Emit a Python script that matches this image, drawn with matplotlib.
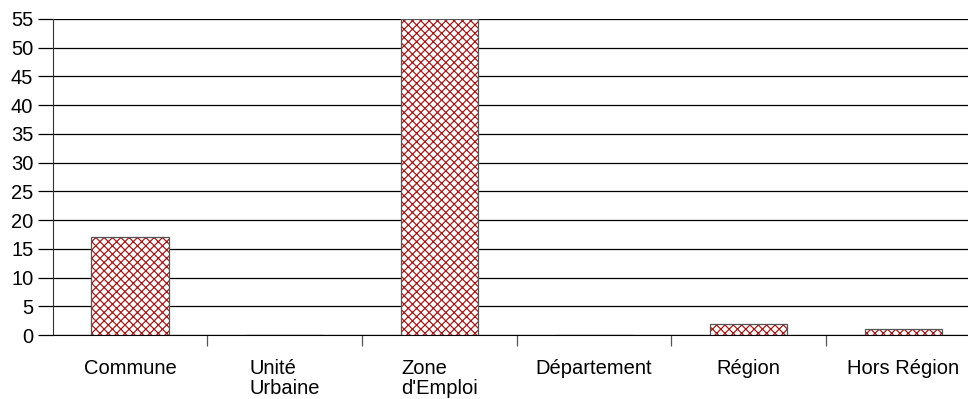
import matplotlib.pyplot as plt
import numpy as np

# data
categories = ["Commune", "Unité\nUrbaine", "Zone\nd'Emploi", "Département", "Région", "Hors Région"]
values = [17, 0, 55, 0, 2, 1]
yticks = list(range(0, 56, 5))

plt.rcParams['font.family'] = ['Liberation Sans', 'DejaVu Sans']
plt.rcParams['hatch.linewidth'] = 0.9

fig = plt.figure(figsize=(9.68, 3.99), dpi=100)
ax = fig.add_axes([0.0545, 0.1604, 0.9587, 0.792])

x = np.arange(len(categories))
# hatched fill
ax.bar(x, values, width=0.5, color='white', edgecolor='#a01c1c', hatch='xxxx', linewidth=0, zorder=3)
# outline
ax.bar(x, values, width=0.5, fill=False, edgecolor='#555555', linewidth=0.9, zorder=4)

ax.set_xlim(-0.5, len(categories) - 0.5)
ax.set_ylim(0, 55)
ax.set_yticks(yticks)
ax.yaxis.grid(True, color='black', linewidth=0.9, zorder=0)
ax.set_axisbelow(True)

# category boundaries as ticks
ax.set_xticks(np.arange(0.5, len(categories) - 0.5, 1.0))
ax.set_xticklabels([])
ax.tick_params(axis='x', direction='out', length=8, width=0.9, color='#555555')
ax.tick_params(axis='y', direction='out', length=11, width=0.9, pad=3, labelsize=14.5)

for i, lab in enumerate(categories):
    ax.text(i, -0.077, lab, transform=ax.get_xaxis_transform(), ha='center', va='top',
            multialignment='left', fontsize=14.5, linespacing=1.05)

for s in ['top', 'right']:
    ax.spines[s].set_visible(False)
ax.spines['left'].set_color('#333333')
ax.spines['bottom'].set_color('black')

fig.savefig('out.png', dpi=100)
